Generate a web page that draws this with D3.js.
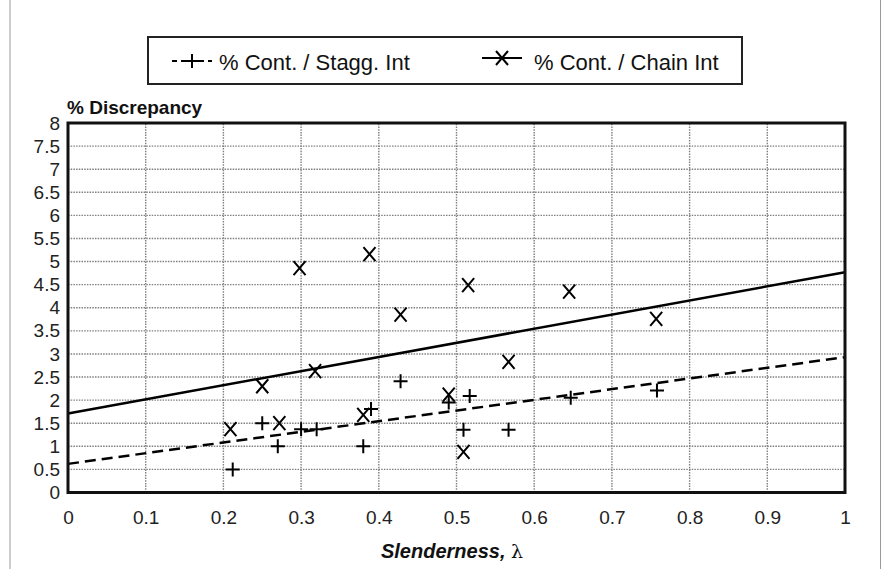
<!DOCTYPE html>
<html><head><meta charset="utf-8">
<script src="https://cdn.jsdelivr.net/npm/d3@7"></script>
<style>body{margin:0;background:#fff}svg{display:block}text{font-family:"Liberation Sans",Arial,sans-serif}</style>
</head><body><svg id="c" width="882" height="569"></svg>
<script>
const xTicks = [0,0.1,0.2,0.3,0.4,0.5,0.6,0.7,0.8,0.9,1];
const yTicks = [0,0.5,1,1.5,2,2.5,3,3.5,4,4.5,5,5.5,6,6.5,7,7.5,8];
const staggX = [0.212,0.25,0.27,0.30,0.32,0.38,0.39,0.428,0.49,0.509,0.517,0.567,0.647,0.758];
const staggY = [0.50,1.50,1.00,1.37,1.37,1.00,1.81,2.41,1.95,1.36,2.09,1.36,2.05,2.21];
const chainX = [0.209,0.25,0.272,0.298,0.318,0.38,0.388,0.428,0.49,0.509,0.515,0.567,0.645,0.757];
const chainY = [1.37,2.30,1.50,4.86,2.63,1.68,5.16,3.85,2.12,0.88,4.49,2.83,4.35,3.76];
const trendX = [0,1];
const staggTrend = [0.62,2.93];
const chainTrend = [1.71,4.77];
const seriesNames = ["% Cont. / Stagg. Int","% Cont. / Chain Int"];

const svg = d3.select("#c");
const x = d3.scaleLinear().domain([0,1]).range([68,845]);
const y = d3.scaleLinear().domain([0,8]).range([492.5,123]);

svg.append("line").attr("x1",10).attr("x2",10).attr("y1",0).attr("y2",569).attr("stroke","#999").attr("stroke-width",1);
svg.append("line").attr("x1",880.5).attr("x2",880.5).attr("y1",0).attr("y2",569).attr("stroke","#999").attr("stroke-width",1);

const grid = svg.append("g").attr("stroke","#808080").attr("stroke-width",1.4).attr("stroke-dasharray","1.5,1.2");
grid.selectAll(".gy").data(yTicks.filter(d=>d>0&&d<8)).join("line")
  .attr("x1",x(0)).attr("x2",x(1)).attr("y1",d=>y(d)).attr("y2",d=>y(d));
grid.selectAll(".gx").data(xTicks.filter(d=>d>0&&d<1)).join("line")
  .attr("y1",y(0)).attr("y2",y(8)).attr("x1",d=>x(d)).attr("x2",d=>x(d));

const yAxis = d3.axisLeft(y).tickValues(yTicks).tickSize(0).tickPadding(8).tickFormat(d3.format("~g"));
const gy = svg.append("g").attr("transform",`translate(${x(0)},0)`).call(yAxis);
const xAxis = d3.axisBottom(x).tickValues(xTicks).tickSize(0).tickPadding(18).tickFormat(d3.format("~g"));
const gx = svg.append("g").attr("transform",`translate(0,${y(0)})`).call(xAxis);
[gx,gy].forEach(g=>{g.select(".domain").remove();g.selectAll("text").attr("font-size",19).attr("fill","#222").attr("font-family","Liberation Sans, Arial, sans-serif");});

const line = d3.line().x(d=>x(d[0])).y(d=>y(d[1]));
svg.append("path").datum(trendX.map((v,i)=>[v,chainTrend[i]])).attr("d",line).attr("fill","none").attr("stroke","#000").attr("stroke-width",2.5);
svg.append("path").datum(trendX.map((v,i)=>[v,staggTrend[i]])).attr("d",line).attr("fill","none").attr("stroke","#000").attr("stroke-width",2.5).attr("stroke-dasharray","11,6");

const plusPath = s=>`M${-s},0H${s}M0,${-s}V${s}`;
const xPath = (w,h)=>`M${-w},${-h}L${w},${h}M${w},${-h}L${-w},${h}`;
svg.append("g").selectAll("path").data(staggX.map((v,i)=>[v,staggY[i]])).join("path")
  .attr("transform",d=>`translate(${x(d[0])},${y(d[1])})`).attr("d",plusPath(7))
  .attr("stroke","#000").attr("stroke-width",2).attr("fill","none");
svg.append("g").selectAll("path").data(chainX.map((v,i)=>[v,chainY[i]])).join("path")
  .attr("transform",d=>`translate(${x(d[0])},${y(d[1])})`).attr("d",xPath(6,7))
  .attr("stroke","#000").attr("stroke-width",2).attr("fill","none");

svg.append("rect").attr("x",x(0)).attr("y",y(8)).attr("width",x(1)-x(0)).attr("height",y(0)-y(8))
  .attr("fill","none").attr("stroke","#111").attr("stroke-width",3);

svg.append("text").attr("x",67).attr("y",114).attr("font-size",19).attr("font-weight","bold").attr("fill","#111").text("% Discrepancy");
const xt = svg.append("text").attr("x",452).attr("y",558).attr("text-anchor","middle").attr("font-size",20).attr("fill","#111");
xt.append("tspan").attr("font-weight","bold").attr("font-style","italic").text("Slenderness, ");
xt.append("tspan").attr("font-family","DejaVu Serif, serif").attr("font-size",19).text("λ");

const lg = svg.append("g");
lg.append("rect").attr("x",148).attr("y",37).attr("width",594).attr("height",47).attr("fill","#fff").attr("stroke","#222").attr("stroke-width",2);
lg.append("line").attr("x1",172).attr("x2",212).attr("y1",61).attr("y2",61).attr("stroke","#000").attr("stroke-width",2).attr("stroke-dasharray","5,4");
lg.append("path").attr("transform","translate(192,61)").attr("d",plusPath(7)).attr("stroke","#000").attr("stroke-width",2);
lg.append("text").attr("x",219).attr("y",70).attr("font-size",22).attr("fill","#111").text(seriesNames[0]);
lg.append("line").attr("x1",482).attr("x2",522).attr("y1",58).attr("y2",58).attr("stroke","#000").attr("stroke-width",2);
lg.append("path").attr("transform","translate(502,58)").attr("d",xPath(6,7)).attr("stroke","#000").attr("stroke-width",2);
lg.append("text").attr("x",534).attr("y",70).attr("font-size",22).attr("fill","#111").text(seriesNames[1]);
</script></body></html>
